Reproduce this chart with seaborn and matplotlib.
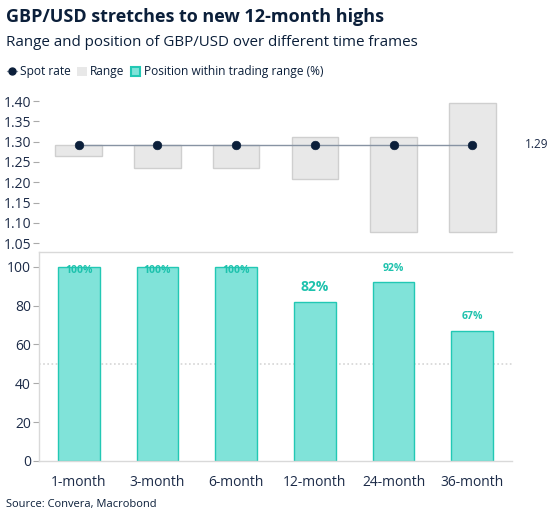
import numpy as np
import matplotlib
matplotlib.use('Agg')
import matplotlib.pyplot as plt
import seaborn as sns
from matplotlib.lines import Line2D
from matplotlib.patches import Patch

periods = ['1-month', '3-month', '6-month', '12-month', '24-month', '36-month']
spot = [1.293, 1.293, 1.293, 1.293, 1.293, 1.293]
range_low = [1.264, 1.235, 1.235, 1.209, 1.077, 1.077]
range_high = [1.293, 1.293, 1.293, 1.312, 1.312, 1.396]
position = [100, 100, 100, 82, 92, 67]
pos_labels = ['100%', '100%', '100%', '82%', '92%', '67%']

navy = '#0b1f3a'
teal_fill = '#80e3d9'
teal_edge = '#22c8b4'
teal_text = '#1ec2ad'
grey_fill = '#e8e8e8'
grey_edge = '#cfcfcf'
txt = '#1c2b48'

sns.set_style('white')
plt.rcParams['font.family'] = ['Open Sans', 'DejaVu Sans']

fig = plt.figure(figsize=(5.56, 5.17), dpi=100)
W, H = 556, 517
def box(x0, y0, x1, y1):
    return [x0 / W, 1 - y1 / H, (x1 - x0) / W, (y1 - y0) / H]

ax1 = fig.add_axes(box(39.3, 95, 511.7, 251.7))
ax2 = fig.add_axes(box(39.3, 251.7, 511.7, 461))

x = np.arange(len(periods))

# top panel: ranges and spot
heights = np.array(range_high) - np.array(range_low)
ax1.bar(x, heights, bottom=range_low, width=0.59, color=grey_fill,
        edgecolor=grey_edge, linewidth=1, zorder=1)
sns.lineplot(x=x, y=spot, ax=ax1, color='#8793a3', linewidth=1, zorder=2)
sns.scatterplot(x=x, y=spot, ax=ax1, color=navy, s=38, edgecolor=navy, zorder=3)
ax1.set_xlim(-0.5, 5.5)
ax1.set_ylim(1.029, 1.415)
ax1.set_yticks(np.arange(1.05, 1.401, 0.05))
ax1.set_yticklabels([f'{v:.2f}' for v in np.arange(1.05, 1.401, 0.05)])
ax1.set_xticks([])
for s in ax1.spines.values():
    s.set_visible(False)
ax1.tick_params(axis='y', left=True, length=4, color='#aaaaaa', labelsize=10,
                labelcolor=txt, pad=2)
ax1.text(1.028, spot[-1], f'{spot[-1]:.2f}', transform=ax1.get_yaxis_transform(),
         va='center', ha='left', fontsize=8.5, color=txt)

# bottom panel: position within range
sns.barplot(x=periods, y=position, ax=ax2, color=teal_fill, saturation=1,
            width=0.53, edgecolor=teal_edge, linewidth=1.0, zorder=2)
ax2.axhline(50, color='#d5d5d5', linestyle=(0, (1, 1.5)), linewidth=1.2, zorder=1)
ax2.set_xlim(-0.5, 5.5)
ax2.set_ylim(0, 107.7)
ax2.set_yticks([0, 20, 40, 60, 80, 100])
for i, (v, lab) in enumerate(zip(position, pos_labels)):
    if v >= 100:
        ax2.text(i, v - 2, lab, ha='center', va='center', fontsize=7.5,
                 fontweight='bold', color=teal_text, zorder=3)
    elif lab == '82%':
        ax2.text(i, v + 7.7, lab, ha='center', va='center', fontsize=10,
                 fontweight='bold', color=teal_text, zorder=3)
    else:
        ax2.text(i, v + 7.2, lab, ha='center', va='center', fontsize=7.5,
                 fontweight='bold', color=teal_text, zorder=3)
ax2.set_xticks(np.arange(-0.5, 5.6, 1.0), minor=True)
ax2.tick_params(axis='x', which='major', length=0, labelsize=10, labelcolor=txt, pad=10)
ax2.tick_params(axis='x', which='minor', length=5, color='#aaaaaa', direction='out')
ax2.tick_params(axis='y', left=True, length=4, color='#aaaaaa', labelsize=10,
                labelcolor=txt, pad=2)
ax2.set_xlabel('')
ax2.set_ylabel('')
ax2.spines['right'].set_visible(False)
for k in ['left', 'bottom', 'top']:
    ax2.spines[k].set_color('#d9d9d9')
    ax2.spines[k].set_linewidth(1)

# titles
fig.text(6 / W, 1 - 17 / H, 'GBP/USD stretches to new 12-month highs', fontsize=13,
         fontweight='bold', color=navy, va='center', ha='left')
fig.text(6 / W, 1 - 42 / H, 'Range and position of GBP/USD over different time frames',
         fontsize=10.9, color=navy, va='center', ha='left')
fig.text(6 / W, 1 - 505 / H, 'Source: Convera, Macrobond', fontsize=8,
         color=navy, va='center', ha='left')

handles = [
    Line2D([0], [0], color='#8793a3', lw=1, marker='o', markersize=5,
           markerfacecolor=navy, markeredgecolor=navy),
    Patch(facecolor=grey_fill, edgecolor='none'),
    Patch(facecolor=teal_fill, edgecolor=teal_edge, linewidth=1.5),
]
fig.legend(handles, ['Spot rate', 'Range', 'Position within trading range (%)'],
           loc='center left', bbox_to_anchor=(0, 1 - 72 / H), ncol=3, frameon=False,
           fontsize=8.6, handlelength=0.8, handleheight=0.8, handletextpad=0.3,
           columnspacing=0.5, labelcolor=navy, borderaxespad=0.2)

fig.savefig('out.png', dpi=100)
